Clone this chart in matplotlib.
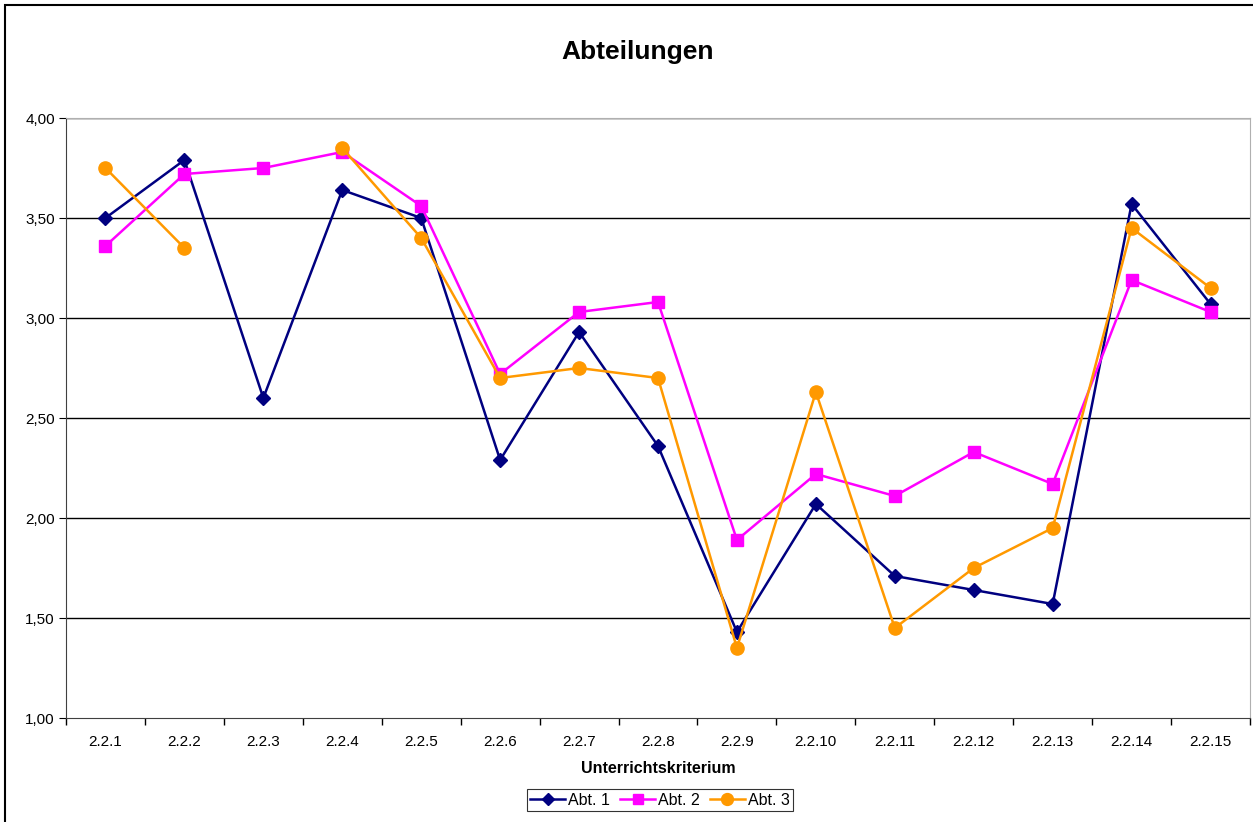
import numpy as np
import matplotlib
matplotlib.use("Agg")
import matplotlib.pyplot as plt
from matplotlib.patches import Rectangle
from matplotlib.ticker import FuncFormatter

plt.rcParams['font.family'] = ['Liberation Sans', 'DejaVu Sans']

# data
kriterien = ["2.2.1", "2.2.2", "2.2.3", "2.2.4", "2.2.5", "2.2.6", "2.2.7", "2.2.8",
             "2.2.9", "2.2.10", "2.2.11", "2.2.12", "2.2.13", "2.2.14", "2.2.15"]
abt1 = [3.50, 3.79, 2.60, 3.64, 3.50, 2.29, 2.93, 2.36, 1.43, 2.07, 1.71, 1.64, 1.57, 3.57, 3.07]
abt2 = [3.36, 3.72, 3.75, 3.83, 3.56, 2.72, 3.03, 3.08, 1.89, 2.22, 2.11, 2.33, 2.17, 3.19, 3.03]
abt3 = [3.75, 3.35, np.nan, 3.85, 3.40, 2.70, 2.75, 2.70, 1.35, 2.63, 1.45, 1.75, 1.95, 3.45, 3.15]

fig = plt.figure(figsize=(12.53, 8.22), dpi=100)
ax = fig.add_axes([66 / 1253, 1 - 718 / 822, 1184 / 1253, 600 / 822])

x = np.arange(len(kriterien))
ax.plot(x, abt1, color="#000080", marker="D", markersize=7, linewidth=1.8, label="Abt. 1")
ax.plot(x, abt2, color="#FF00FF", marker="s", markersize=8.5, linewidth=1.8, label="Abt. 2")
ax.plot(x, abt3, color="#FF9900", marker="o", markersize=9.5, linewidth=1.8, label="Abt. 3")

ax.set_xlim(-0.5, len(kriterien) - 0.5)
ax.set_ylim(1.0, 4.0)
ax.set_yticks(np.arange(1.0, 4.01, 0.5))
ax.yaxis.set_major_formatter(FuncFormatter(lambda v, p: f"{v:.2f}".replace(".", ",")))
for yv in np.arange(1.5, 4.01, 0.5):
    ax.axhline(yv, color="black", linewidth=1.0, zorder=0)

# category labels centered, tick marks between categories
ax.set_xticks(x)
ax.set_xticklabels(kriterien)
ax.set_xticks(np.arange(-0.5, len(kriterien), 1.0), minor=True)
ax.tick_params(axis="x", which="major", length=0, pad=12, labelsize=11)
ax.tick_params(axis="x", which="minor", length=5, direction="out", width=1)
ax.tick_params(axis="y", length=5, direction="out", labelsize=11, pad=3)

for side in ["top", "right"]:
    ax.spines[side].set_color("#b0b0b0")
for side in ["left", "bottom"]:
    ax.spines[side].set_color("#404040")

ax.set_xlabel("Unterrichtskriterium", fontsize=11.5, fontweight="bold", labelpad=9)
fig.text(638 / 1253, 1 - 52 / 822, "Abteilungen", ha="center", va="center",
         fontsize=19, fontweight="bold")

leg = fig.legend(loc="center", bbox_to_anchor=(660 / 1253, 1 - 800 / 822), ncol=3,
                 frameon=True, fancybox=False, edgecolor="black", fontsize=11.5,
                 handlelength=2.2, handletextpad=0.2, columnspacing=0.6,
                 borderpad=0.2, markerscale=0.9)
leg.get_frame().set_linewidth(0.8)

# outer chart border
fig.patches.append(Rectangle((5 / 1253, -0.05), 1.1, 1 - 5 / 822 + 0.05, transform=fig.transFigure,
                             fill=False, edgecolor="black", linewidth=1.5))

fig.savefig("out.png", dpi=100)
